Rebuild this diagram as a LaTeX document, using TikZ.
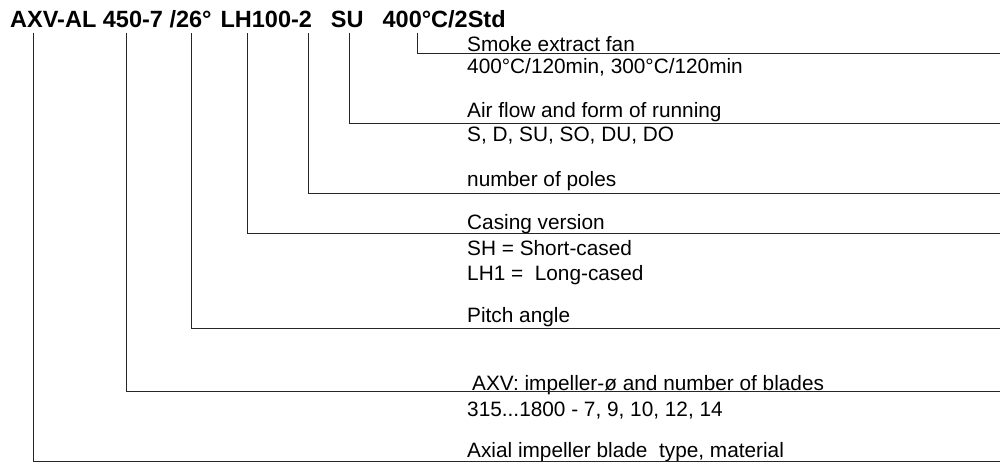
\documentclass[tikz,border=0pt]{standalone}
\usepackage{fontspec}
\setmainfont{Liberation Sans}
\usepackage{tikz}
\usetikzlibrary{calc}

\begin{document}
\begin{tikzpicture}[x=1pt,y=-1pt]
	\tikzstyle{code} = [anchor=base west, inner xsep=0pt, inner ysep=5.5pt, text depth=0pt, font=\bfseries\fontsize{23.5}{27}\selectfont];
	\tikzstyle{desc} = [anchor=base west, inner sep=0pt, font=\fontsize{20.8}{24}\selectfont];
	\tikzstyle{leader} = [draw=black!85, line width=1pt];
	\useasboundingbox (0,0) rectangle (1000,465);
	
	\node[code] (title) at (10,27.5) {AXV-AL 450-7 /26°\hspace{9pt}LH100-2\hspace{19pt}SU\hspace{19pt}400°C/2Std};
	
	\node[desc] (smoke) at (467,51.5) {Smoke extract fan};
	\node[desc] (smokeval) at (467,74) {400°C/120min, 300°C/120min};
	\node[desc] (airflow) at (467,118) {Air flow and form of running};
	\node[desc] (airflowval) at (467,142) {S, D, SU, SO, DU, DO};
	\node[desc] (poles) at (467,186) {number of poles};
	\node[desc] (casing) at (467,229) {Casing version};
	\node[desc] (casingsh) at (467,255.5) {SH = Short-cased};
	\node[desc] (casinglh) at (467,280) {LH1 =\ \ Long-cased};
	\node[desc] (pitch) at (467,322) {Pitch angle};
	\node[desc] (impeller) at (472,390) {AXV: impeller-ø and number of blades};
	\node[desc] (impellerval) at (467,416) {315...1800 - 7, 9, 10, 12, 14};
	\node[desc] (blade) at (467,457) {Axial impeller blade\ \ type, material};
	
	% free ends at the right edge
	\coordinate (e1) at (1000,54);
	\coordinate (e2) at (1000,124);
	\coordinate (e3) at (1000,193);
	\coordinate (e4) at (1000,233);
	\coordinate (e5) at (1000,328);
	\coordinate (e6) at (1000,391);
	\coordinate (e7) at (1000,461);
	
	\draw[leader] ([xshift=407pt]title.south west) |- (e1);
	\draw[leader] ([xshift=339pt]title.south west) |- (e2);
	\draw[leader] ([xshift=298pt]title.south west) |- (e3);
	\draw[leader] ([xshift=237pt]title.south west) |- (e4);
	\draw[leader] ([xshift=181pt]title.south west) |- (e5);
	\draw[leader] ([xshift=116pt]title.south west) |- (e6);
	\draw[leader] ([xshift=23pt]title.south west) |- (e7);
\end{tikzpicture}
\end{document}
